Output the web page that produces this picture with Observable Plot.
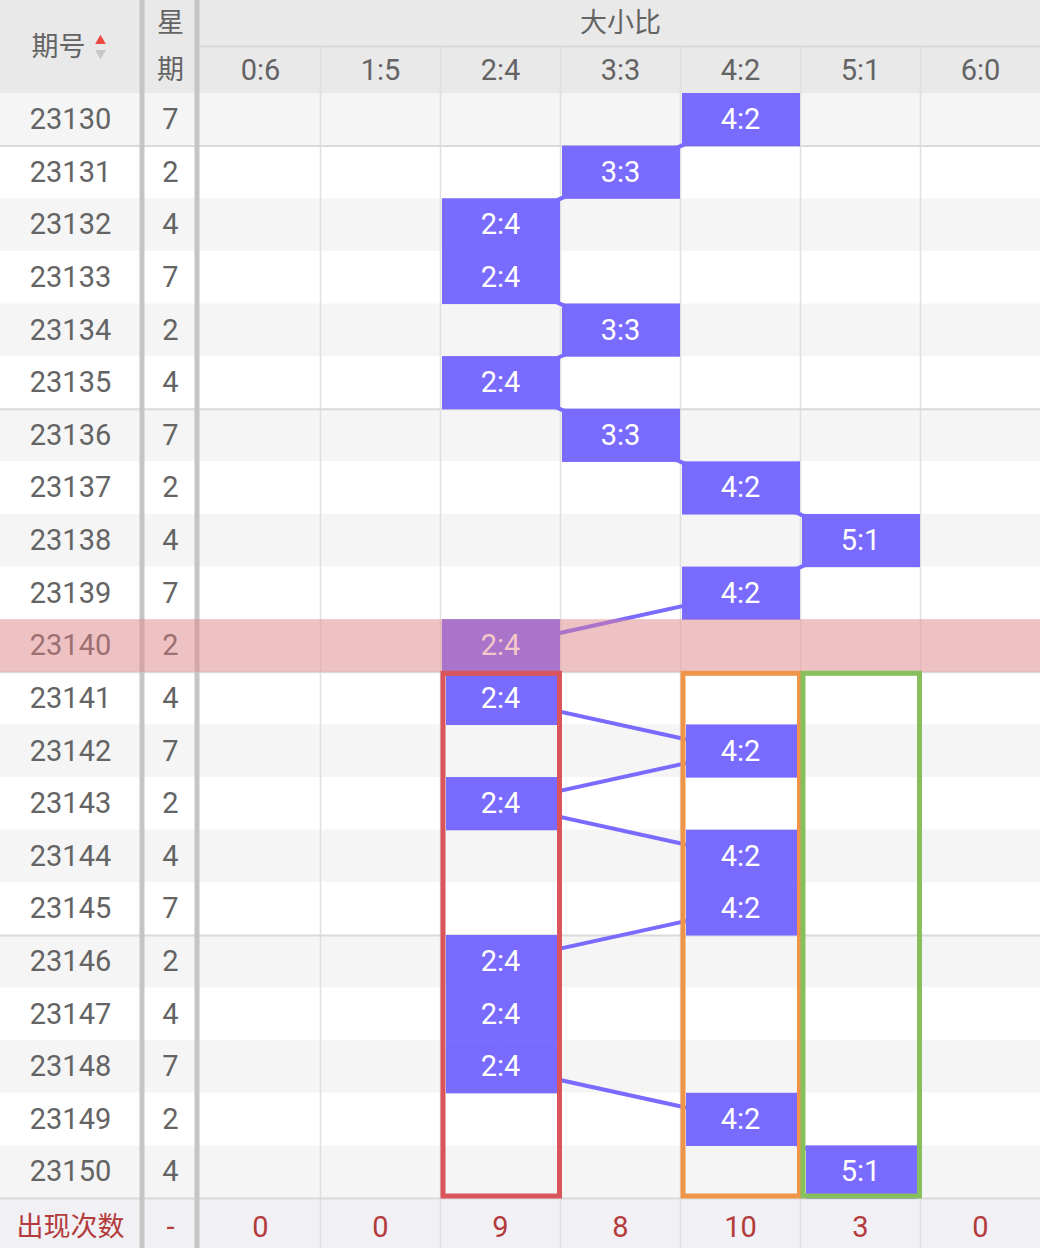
<!DOCTYPE html>
<html><head><meta charset="utf-8">
<script src="https://cdn.jsdelivr.net/npm/d3@7"></script>
<script src="https://cdn.jsdelivr.net/npm/@observablehq/plot@0.6"></script>
<style>body{margin:0;background:#fff}</style>
</head><body><div id="chart"></div>
<script>
// ---- data ----
const issues = [23130,23131,23132,23133,23134,23135,23136,23137,23138,23139,23140,23141,23142,23143,23144,23145,23146,23147,23148,23149,23150];
const weekdays = [7,2,4,7,2,4,7,2,4,7,2,4,7,2,4,7,2,4,7,2,4];
const ratios = ["4:2","3:3","2:4","2:4","3:3","2:4","3:3","4:2","5:1","4:2","2:4","2:4","4:2","2:4","4:2","4:2","2:4","2:4","2:4","4:2","5:1"];
const categories = ["0:6","1:5","2:4","3:3","4:2","5:1","6:0"];
const counts = [0,0,9,8,10,3,0];
const highlightIssue = 23140;
const boxCats = ["2:4","4:2","5:1"];
const boxColors = ["#d9555b","#ef954a","#86bf5c"];
const boxFrom = 23141, boxTo = 23150;
const headerIssue = "期号";
const headerWeek = ["星","期"];
const headerGroup = "大小比";
const footerLabel = "出现次数";
const footerWeek = "-";

// ---- layout (units: ratio column = 1, data row = 1) ----
const W = 1040, H = 1248;
const rowPx = 52.62, colPx = 120;
const n = issues.length;
const yTop = -93 / rowPx, ySplit = -47 / rowPx, yBottom = n + 50 / rowPx;
const xLeft = -200 / colPx, xWeek = -60 / colPx, xRight = categories.length;
const issueX = (xLeft + xWeek) / 2, weekX = xWeek / 2;
const hdr1Y = (yTop + ySplit) / 2, hdr2Y = ySplit / 2, footY = (n + yBottom) / 2;

const rows = issues.map((id, i) => ({id, i, wd: weekdays[i], r: ratios[i], c: categories.indexOf(ratios[i])}));
const bi0 = issues.indexOf(boxFrom), bi1 = issues.indexOf(boxTo);
const inBox = d => d.i >= bi0 && d.i <= bi1 && boxCats.includes(d.r);
const boxes = boxCats.map((cat, k) => ({c: categories.indexOf(cat), color: boxColors[k]}));
const hl = rows.filter(d => d.id === highlightIssue);
const purple = "#7a6bff";
const txt = "#646464";
const red = "#b33b3b";

const chart = Plot.plot({
  width: W, height: H, margin: 0,
  x: {type: "linear", domain: [xLeft, xRight], range: [0, W], axis: null},
  y: {type: "linear", domain: [yTop, yBottom], range: [0, H], axis: null},
  style: {fontFamily: "Roboto, 'Noto Sans CJK SC', sans-serif", background: "#fff"},
  marks: [
    // backgrounds
    Plot.rect(rows, {x1: xLeft, x2: xRight, y1: d => d.i, y2: d => d.i + 1, fill: d => d.i % 2 === 0 ? "#f5f5f5" : "#ffffff"}),
    Plot.rect([0], {x1: xLeft, x2: xRight, y1: yTop, y2: 0, fill: "#e9e9e9"}),
    Plot.rect([0], {x1: xLeft, x2: xRight, y1: n, y2: yBottom, fill: "#f1f0f4"}),
    // grid
    Plot.ruleX(d3.range(1, categories.length), {y1: ySplit, y2: yBottom, stroke: "#e0e0e0", strokeWidth: 1.5}),
    Plot.ruleY([ySplit], {x1: 0, x2: xRight, stroke: "#d8d8d8", strokeWidth: 2}),
    Plot.ruleY([1, 6, 11, 16, n], {x1: xLeft, x2: xRight, stroke: "#dadada", strokeWidth: 2}),
    Plot.ruleX([xWeek], {y1: yTop, y2: yBottom, stroke: "#c5c5c5", strokeWidth: 5, dx: 1.5}),
    Plot.ruleX([0], {y1: yTop, y2: yBottom, stroke: "#c5c5c5", strokeWidth: 5, dx: -3.5}),
    // trend line
    Plot.line(rows, {x: d => d.c + 0.5, y: d => d.i + 0.5, stroke: purple, strokeWidth: 4}),
    // cells
    Plot.rect(rows.filter(d => !inBox(d)), {x1: d => d.c, x2: d => d.c + 1, y1: d => d.i, y2: d => d.i + 1, fill: purple, insetLeft: 2, insetBottom: -0.6}),
    Plot.rect(rows.filter(inBox), {x1: d => d.c, x2: d => d.c + 1, y1: d => d.i, y2: d => d.i + 1, fill: purple, insetLeft: 6, insetRight: 3, insetBottom: -0.6}),
    Plot.text(rows, {x: d => d.c + 0.5, y: d => d.i + 0.5, text: d => d.r, fill: "#ffffff", fontSize: 29}),
    // row labels
    Plot.text(rows, {x: issueX, y: d => d.i + 0.5, text: d => String(d.id), fill: txt, fontSize: 29}),
    Plot.text(rows, {x: weekX, y: d => d.i + 0.5, text: d => String(d.wd), fill: txt, fontSize: 29}),
    // highlight overlay
    Plot.rect(hl, {x1: xLeft, x2: xRight, y1: d => d.i, y2: d => d.i + 1, fill: "rgb(230,128,132)", fillOpacity: 0.44}),
    // boxes
    Plot.rect(boxes, {x1: d => d.c, x2: d => d.c + 1, y1: bi0, y2: bi1 + 1, stroke: d => d.color, strokeWidth: 5, fill: "none", insetLeft: 3, insetRight: 0.5, insetTop: 1.5, insetBottom: 2}),
    // header
    Plot.text([headerIssue], {x: issueX, y: (yTop + 0) / 2, text: d => d, fill: txt, fontSize: 27, dx: -12}),
    Plot.dot([0], {x: issueX, y: (yTop + 0) / 2, symbol: "triangle", r: 4, fill: "#ea4a3f", stroke: "none", dx: 30, dy: -6}),
    Plot.dot([0], {x: issueX, y: (yTop + 0) / 2, symbol: "triangle", r: 4, fill: "#c6c6c6", stroke: "none", rotate: 180, dx: 30, dy: 6}),
    Plot.text([headerWeek[0]], {x: weekX, y: hdr1Y, text: d => d, fill: txt, fontSize: 27}),
    Plot.text([headerWeek[1]], {x: weekX, y: hdr2Y, text: d => d, fill: txt, fontSize: 27}),
    Plot.text([headerGroup], {x: xRight / 2, y: hdr1Y, text: d => d, fill: txt, fontSize: 27}),
    Plot.text(categories, {x: (d, k) => k + 0.5, y: hdr2Y, text: d => d, fill: txt, fontSize: 29, dy: 1}),
    // footer
    Plot.text([footerLabel], {x: issueX, y: footY, text: d => d, fill: red, fontSize: 27, dy: 4}),
    Plot.text([footerWeek], {x: weekX, y: footY, text: d => d, fill: red, fontSize: 29, dy: 4}),
    Plot.text(counts, {x: (d, k) => k + 0.5, y: footY, text: d => String(d), fill: red, fontSize: 29, dy: 4})
  ]
});
document.getElementById("chart").append(chart);
</script></body></html>
